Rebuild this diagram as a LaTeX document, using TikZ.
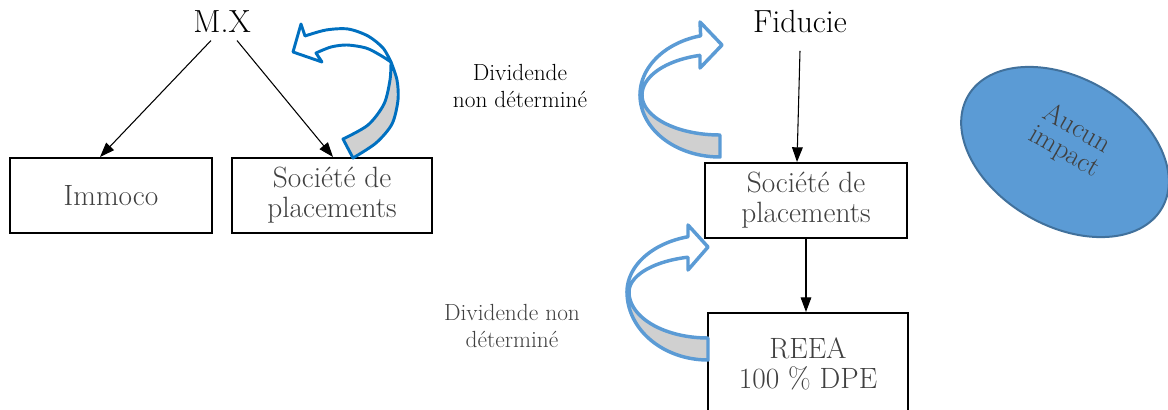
\documentclass[tikz,border=0pt]{standalone}
\usepackage{fontspec}
\usetikzlibrary{arrows.meta,shapes.geometric,calc}
\definecolor{dblue}{RGB}{0,112,192}
\definecolor{lblue}{RGB}{91,155,213}
\definecolor{eborder}{RGB}{65,113,156}
\definecolor{ribbon}{RGB}{208,208,208}
\definecolor{tgray}{RGB}{64,64,64}
\begin{document}
\begin{tikzpicture}[x=0.75pt,y=-0.75pt,
  box/.style={draw=black,line width=1.5pt,fill=white,align=center,text=tgray,font=\fontsize{22}{22.5}\selectfont,inner sep=0pt},
  title/.style={font=\fontsize{24}{26}\selectfont,inner sep=1pt},
  lbl/.style={align=center,font=\fontsize{17.5}{20.5}\selectfont},
  etext/.style={rotate=-30,text=tgray,inner sep=0pt,font=\fontsize{21}{21}\selectfont},
  arr/.style={line width=0.8pt,-{Triangle[length=11pt,width=8pt]}},
  ribl/.style={line width=2.2pt,draw=dblue,line join=round},
  ribr/.style={line width=2.6pt,draw=lblue,line join=round}]
\useasboundingbox (0,0) rectangle (1168,410);

% left group
\node[title] (mx) at (222,22) {M.X};
\node[box,minimum width=151.5pt,minimum height=56.25pt] (immoco) at (111,195.5) {Immoco};
\node[box,minimum width=150pt,minimum height=56.25pt] (spl) at (332,195.5) {Société de\\placements};
\draw[arr] ($(mx.south)+(-11,6)$) -- ($(immoco.north)+(-11,0)$);
\draw[arr] ($(mx.south)+(15,6)$) -- ($(spl.north)+(1,0)$);

% right group
\node[title] (fid) at (800,22) {Fiducie};
\node[box,minimum width=151.5pt,minimum height=56.25pt] (spr) at (806,200.5) {Société de\\placements};
\node[box,minimum width=150pt,minimum height=76.5pt] (reea) at (808,364) {REEA\\100 \% DPE};
\draw[arr] ($(fid.south)+(0,16)$) -- ($(spr.north)+(-9,0)$);
\draw[arr] (spr.south) -- (spr.south |- reea.north);

% labels
\node[lbl] (d1) at (520,86) {Dividende\\non déterminé};
\node[lbl,text=tgray] (d2) at (512,326) {Dividende non\\déterminé};

% ellipse
\node[ellipse,fill=lblue,draw=eborder,line width=1.5pt,minimum width=168pt,minimum height=111pt,rotate=-30] (aucun) at (1065,152) {};
\node[etext] (aucun1) at (1078,127) {Aucun};
\node[etext] (aucun2) at (1064,153) {impact};

% left ribbon arrow
\filldraw[ribl,fill=ribbon] plot[smooth] coordinates {(391,62) (397,80) (398,100) (392,124) (376,143) (353,158)} -- (343,139) -- plot[smooth] coordinates {(343,139) (368,125) (384,104) (390,80) (391,62)} -- cycle;
\filldraw[ribl,fill=white] (305,36) -- (301,24) -- (293,52) -- (322,62) -- (316,53) -- plot[smooth] coordinates {(316,53) (331,47) (347,45) (366,48) (380,55) (391,62)} -- plot[smooth] coordinates {(391,62) (383,48) (368,36) (348,29) (326,30) (305,36)} -- cycle;

% top right ribbon arrow
\filldraw[ribr,fill=ribbon] plot[domain=180:90,samples=40] ({720+80*cos(\x)},{95+62*sin(\x)}) -- (720,135) -- plot[domain=90:180,samples=40] ({720+78*cos(\x)},{95+40*sin(\x)}) -- cycle;
\filldraw[ribr,fill=white] plot[domain=180:256,samples=40] ({720+80*cos(\x)},{95+61*sin(\x)}) -- (700,22) -- (722,45) -- (700,68) -- (700,55.4) -- plot[domain=255:180,samples=40] ({720+78*cos(\x)},{95+41*sin(\x)}) -- cycle;

% bottom right ribbon arrow
\filldraw[ribr,fill=ribbon] plot[domain=180:90,samples=40] ({708+81*cos(\x)},{292+68*sin(\x)}) -- (708,338) -- plot[domain=90:180,samples=40] ({708+79*cos(\x)},{292+46*sin(\x)}) -- cycle;
\filldraw[ribr,fill=white] plot[domain=180:255.7,samples=40] ({708+81*cos(\x)},{292+57*sin(\x)}) -- (688,225) -- (708,247) -- (688,270) -- (688,257.3) -- plot[domain=254.7:180,samples=40] ({708+79*cos(\x)},{292+36*sin(\x)}) -- cycle;
\end{tikzpicture}
\end{document}
